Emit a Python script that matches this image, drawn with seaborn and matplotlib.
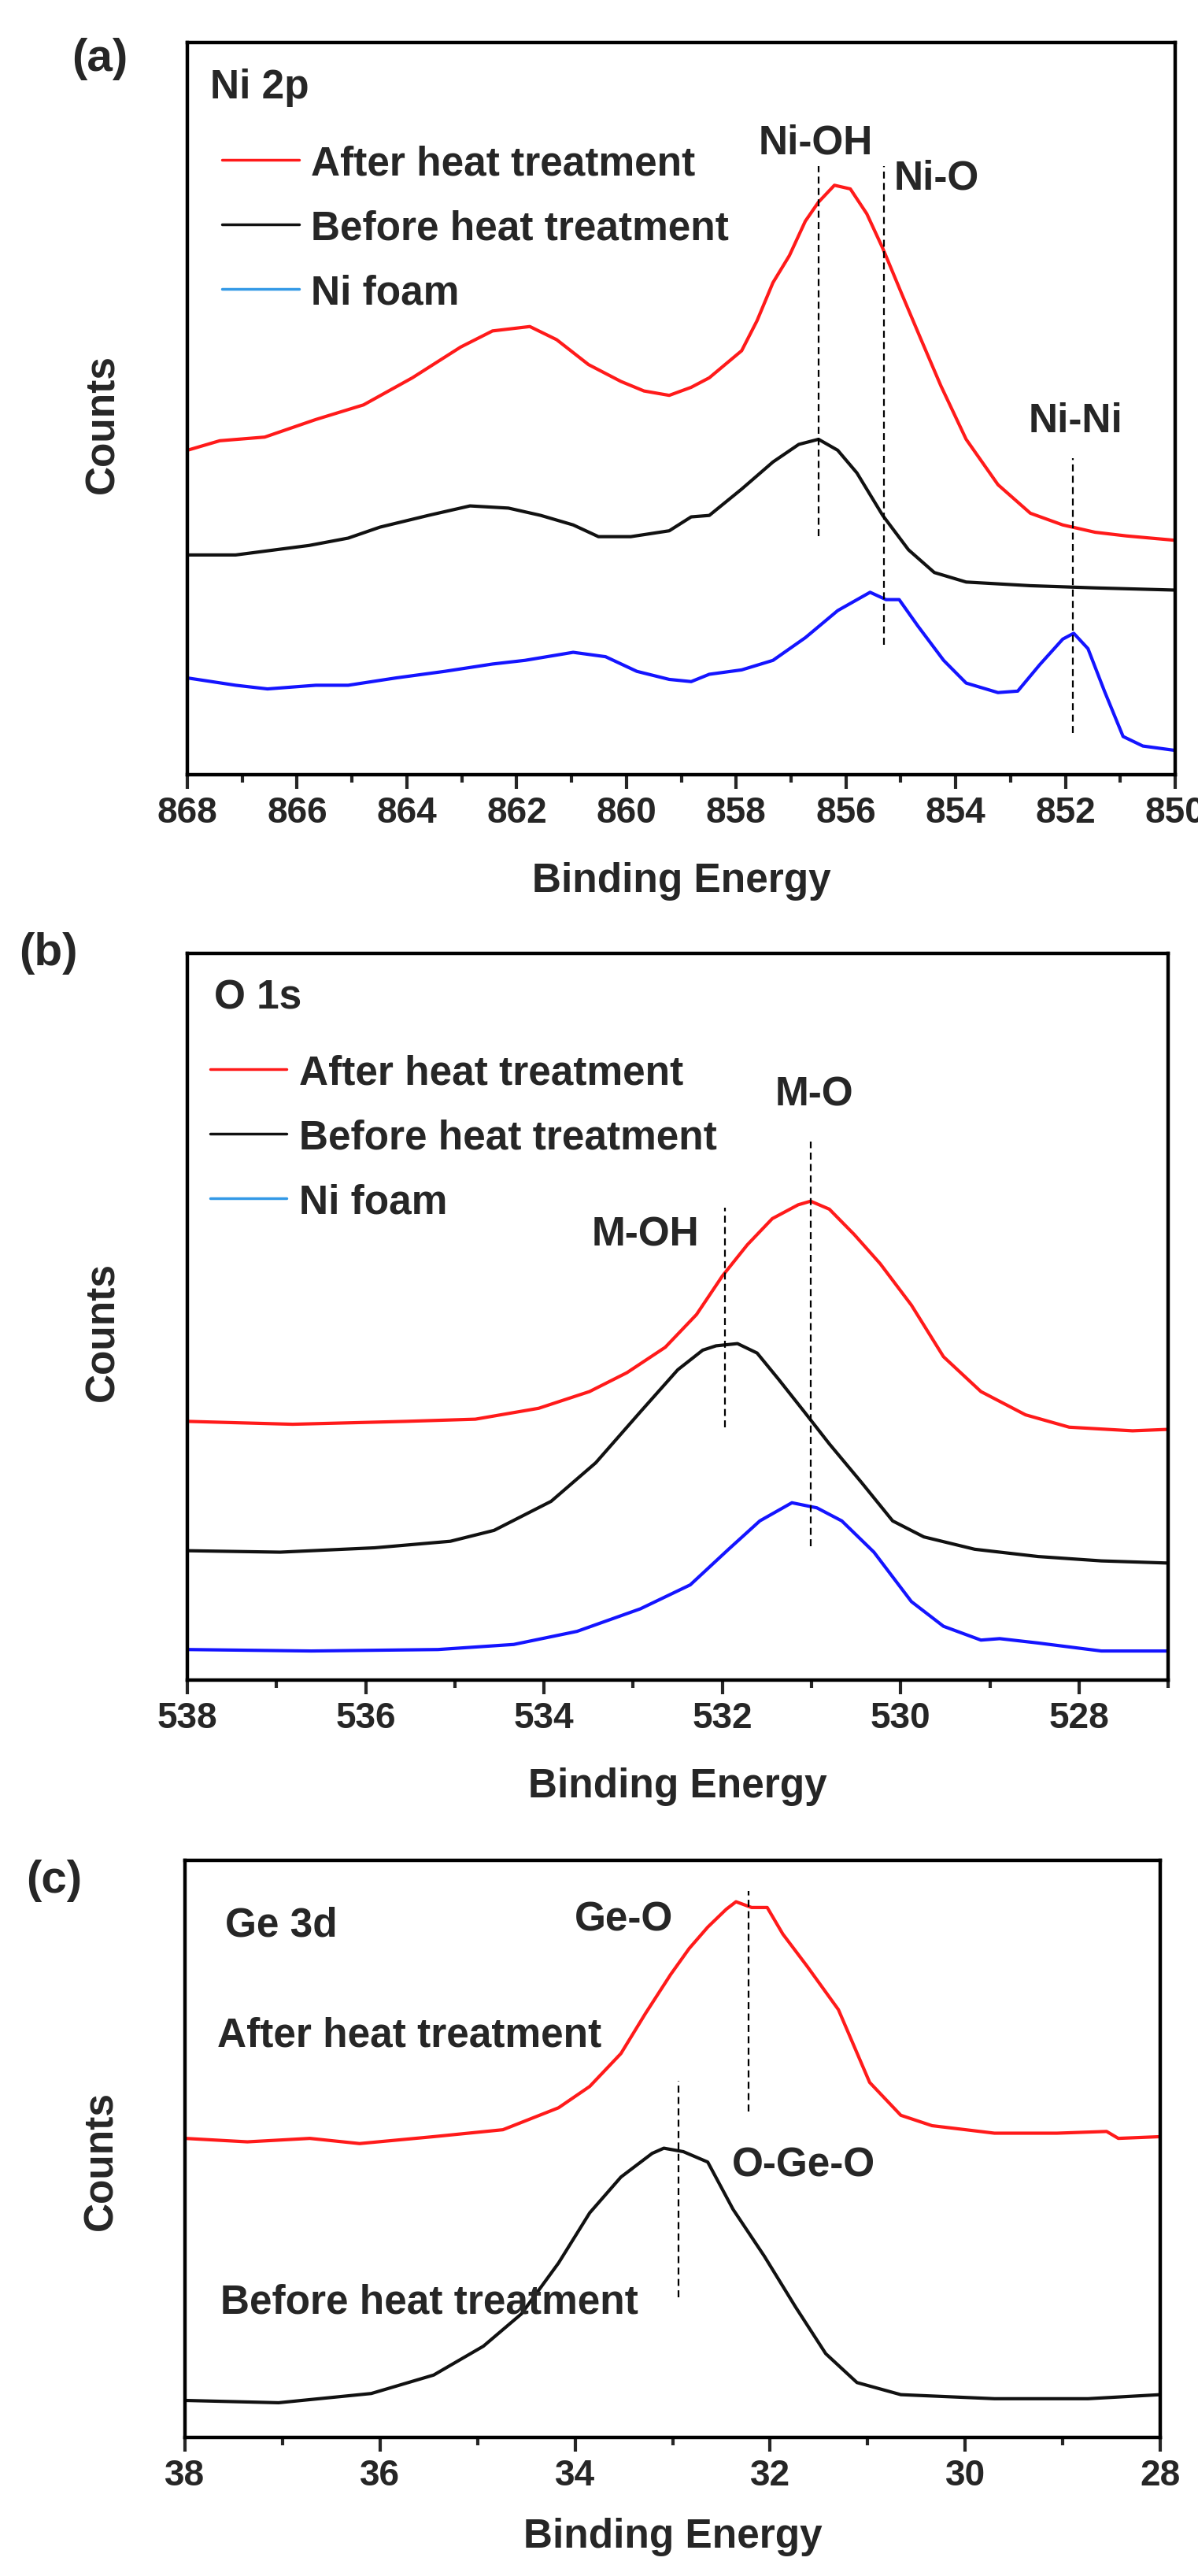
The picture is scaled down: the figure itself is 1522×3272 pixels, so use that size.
import seaborn as sns
import matplotlib.pyplot as plt
from matplotlib.lines import Line2D
from matplotlib.ticker import MultipleLocator

# ---- panel (a) Ni 2p : binding energy (eV) and normalised counts
ni_after_x = [868, 867.41, 866.59, 865.66, 864.79, 863.90, 863.02, 862.44, 861.76, 861.27,
              860.69, 860.10, 859.68, 859.22, 858.82, 858.49, 857.90, 857.62, 857.33, 857.03,
              856.74, 856.50, 856.21, 855.92, 855.62, 855.33, 854.98, 854.63, 854.27, 853.81,
              853.23, 852.64, 852.05, 851.46, 850.89, 850.0]
ni_after_y = [0.443, 0.456, 0.461, 0.485, 0.505, 0.542, 0.584, 0.606, 0.612, 0.594,
              0.560, 0.537, 0.524, 0.518, 0.529, 0.542, 0.579, 0.620, 0.672, 0.709,
              0.756, 0.782, 0.805, 0.800, 0.766, 0.719, 0.656, 0.594, 0.531, 0.458,
              0.396, 0.357, 0.341, 0.331, 0.326, 0.320]
ni_before_x = [868, 867.12, 865.78, 865.07, 864.49, 863.61, 862.85, 862.15, 861.56, 860.97,
               860.51, 859.92, 859.22, 858.82, 858.49, 857.90, 857.33, 856.86, 856.50, 856.15,
               855.80, 855.33, 854.86, 854.39, 853.81, 852.64, 851.46, 850.0]
ni_before_y = [0.300, 0.300, 0.313, 0.323, 0.338, 0.354, 0.367, 0.364, 0.354, 0.341,
               0.325, 0.325, 0.333, 0.352, 0.354, 0.390, 0.427, 0.451, 0.458, 0.443,
               0.412, 0.354, 0.307, 0.276, 0.263, 0.258, 0.255, 0.252]
ni_foam_x = [868, 867.12, 866.54, 865.66, 865.07, 864.20, 863.31, 862.44, 861.85, 860.97,
             860.38, 859.81, 859.22, 858.82, 858.49, 857.90, 857.33, 856.74, 856.15, 855.56,
             855.27, 855.03, 854.69, 854.22, 853.81, 853.23, 852.87, 852.47, 852.05, 851.85,
             851.59, 851.29, 850.95, 850.59, 850.0]
ni_foam_y = [0.132, 0.122, 0.117, 0.122, 0.122, 0.132, 0.141, 0.151, 0.156, 0.167,
             0.161, 0.141, 0.130, 0.127, 0.137, 0.143, 0.156, 0.187, 0.224, 0.249,
             0.239, 0.239, 0.203, 0.156, 0.125, 0.112, 0.114, 0.150, 0.185, 0.193,
             0.172, 0.114, 0.052, 0.039, 0.033]

# ---- panel (b) O 1s
o_after_x = [538, 536.82, 535.55, 534.77, 534.06, 533.49, 533.07, 532.64, 532.29, 532.00,
             531.72, 531.44, 531.15, 531.01, 530.80, 530.52, 530.23, 529.88, 529.52, 529.10,
             528.60, 528.11, 527.40, 527]
o_after_y = [0.356, 0.352, 0.356, 0.359, 0.374, 0.397, 0.423, 0.458, 0.503, 0.556,
             0.599, 0.635, 0.654, 0.659, 0.648, 0.613, 0.573, 0.516, 0.445, 0.397,
             0.365, 0.348, 0.343, 0.345]
o_before_x = [538, 536.96, 535.90, 535.05, 534.56, 533.92, 533.42, 532.92, 532.50, 532.22,
              532.07, 531.83, 531.61, 531.37, 531.08, 530.80, 530.44, 530.09, 529.74, 529.17,
              528.46, 527.75, 527]
o_before_y = [0.178, 0.176, 0.182, 0.191, 0.206, 0.246, 0.299, 0.369, 0.427, 0.454,
              0.460, 0.463, 0.450, 0.414, 0.369, 0.325, 0.272, 0.219, 0.197, 0.180,
              0.170, 0.164, 0.161]
o_foam_x = [538, 536.61, 535.19, 534.34, 533.63, 532.92, 532.36, 531.93, 531.58, 531.22,
            530.94, 530.66, 530.30, 529.88, 529.52, 529.10, 528.89, 528.46, 527.75, 527]
o_foam_y = [0.042, 0.040, 0.042, 0.049, 0.067, 0.098, 0.131, 0.180, 0.219, 0.244,
            0.237, 0.219, 0.176, 0.108, 0.074, 0.055, 0.057, 0.051, 0.040, 0.040]

# ---- panel (c) Ge 3d
ge_after_x = [38, 37.36, 36.72, 36.21, 35.45, 34.74, 34.17, 33.85, 33.53, 33.28, 33.02, 32.83,
              32.64, 32.45, 32.35, 32.19, 32.03, 31.87, 31.62, 31.30, 30.98, 30.66, 30.34,
              29.70, 29.06, 28.55, 28.43, 28.0]
ge_after_y = [0.518, 0.512, 0.518, 0.509, 0.521, 0.533, 0.571, 0.608, 0.665, 0.734, 0.802,
              0.847, 0.884, 0.915, 0.928, 0.918, 0.918, 0.872, 0.816, 0.741, 0.615, 0.558,
              0.540, 0.527, 0.527, 0.530, 0.518, 0.521]
ge_before_x = [38, 37.04, 36.09, 35.45, 34.94, 34.55, 34.17, 33.85, 33.53, 33.21, 33.09,
               32.89, 32.64, 32.38, 32.06, 31.74, 31.43, 31.11, 30.66, 29.70, 28.74, 28.0]
ge_before_y = [0.064, 0.060, 0.076, 0.108, 0.158, 0.214, 0.302, 0.389, 0.451, 0.492, 0.501,
               0.495, 0.477, 0.395, 0.314, 0.226, 0.145, 0.095, 0.074, 0.067, 0.067, 0.074]

# peak markers: label, position (eV), y range
ni_peaks = [("Ni-OH", 856.50, 0.326, 0.831), ("Ni-O", 855.31, 0.177, 0.831),
            ("Ni-Ni", 851.86, 0.057, 0.432)]
o_peaks = [("M-OH", 531.97, 0.348, 0.650), ("M-O", 531.01, 0.184, 0.741)]
ge_peaks = [("Ge-O", 32.22, 0.565, 0.947), ("O-Ge-O", 32.94, 0.242, 0.618)]

RED, BLACK, BLUE, LEG_BLUE = "#ff1a1a", "#111111", "#1414ff", "#3399e6"
FS = 37
LW = 3.0

sns.set_theme(style="ticks")
plt.rcParams["font.family"] = ["Liberation Sans", "DejaVu Sans"]
plt.rcParams["font.weight"] = "bold"

fig = plt.figure(figsize=(15.22, 32.73), dpi=100)
ax_a = fig.add_axes([0.1564, 0.6991, 0.8246, 0.2841])
ax_b = fig.add_axes([0.1564, 0.3477, 0.8187, 0.2820])
ax_c = fig.add_axes([0.1544, 0.0538, 0.8141, 0.2240])


def style_axis(ax, xlim, label_y):
    ax.set_xlim(*xlim)
    ax.set_ylim(0, 1)
    ax.xaxis.set_major_locator(MultipleLocator(2))
    ax.xaxis.set_minor_locator(MultipleLocator(1))
    ax.tick_params(axis="x", which="major", direction="out", length=13, width=3,
                   labelsize=33, pad=6, top=False)
    ax.tick_params(axis="x", which="minor", direction="out", length=7, width=3, top=False)
    ax.tick_params(axis="y", which="both", left=False, right=False, labelleft=False)
    for sp in ax.spines.values():
        sp.set_linewidth(3.2)
        sp.set_color("black")
    ax.set_xlabel("Binding Energy", fontsize=FS, fontweight="bold")
    ax.set_ylabel("Counts", fontsize=FS, fontweight="bold")
    ax.xaxis.set_label_coords(0.5, label_y)
    ax.yaxis.set_label_coords(-0.066, 0.48)
    for lab in ax.get_xticklabels():
        lab.set_fontweight("bold")


def draw_peaks(ax, peaks):
    for _, x, y0, y1 in peaks:
        ax.plot([x, x], [y0, y1], color="black", lw=1.6, ls=(0, (4, 2.5)))


def add_legend(ax, top, x0):
    handles = [Line2D([], [], color=RED, lw=2.5), Line2D([], [], color=BLACK, lw=2.5),
               Line2D([], [], color=LEG_BLUE, lw=2.5)]
    ax.legend(handles, ["After heat treatment", "Before heat treatment", "Ni foam"],
              loc="upper left", bbox_to_anchor=(x0, top), frameon=False, borderpad=0,
              borderaxespad=0, handlelength=1.9, handletextpad=0.3, labelspacing=0.64,
              prop={"size": FS, "weight": "bold"})


# (a)
sns.lineplot(x=ni_after_x, y=ni_after_y, color=RED, lw=LW, ax=ax_a, sort=False)
sns.lineplot(x=ni_before_x, y=ni_before_y, color=BLACK, lw=LW, ax=ax_a, sort=False)
sns.lineplot(x=ni_foam_x, y=ni_foam_y, color=BLUE, lw=LW, ax=ax_a, sort=False)
draw_peaks(ax_a, ni_peaks)
style_axis(ax_a, (868, 850), -0.118)
add_legend(ax_a, 0.861, 0.035)
ax_a.text(867.58, 0.925, "Ni 2p", fontsize=FS, fontweight="bold")
ax_a.text(856.55, 0.849, "Ni-OH", fontsize=FS, fontweight="bold", ha="center")
ax_a.text(855.12, 0.800, "Ni-O", fontsize=FS, fontweight="bold", ha="left")
ax_a.text(851.82, 0.469, "Ni-Ni", fontsize=FS, fontweight="bold", ha="center")

# (b)
sns.lineplot(x=o_after_x, y=o_after_y, color=RED, lw=LW, ax=ax_b, sort=False)
sns.lineplot(x=o_before_x, y=o_before_y, color=BLACK, lw=LW, ax=ax_b, sort=False)
sns.lineplot(x=o_foam_x, y=o_foam_y, color=BLUE, lw=LW, ax=ax_b, sort=False)
draw_peaks(ax_b, o_peaks)
style_axis(ax_b, (538, 527), -0.119)
add_legend(ax_b, 0.862, 0.023)
ax_b.text(537.70, 0.925, "O 1s", fontsize=FS, fontweight="bold")
ax_b.text(530.97, 0.791, "M-O", fontsize=FS, fontweight="bold", ha="center")
ax_b.text(532.86, 0.599, "M-OH", fontsize=FS, fontweight="bold", ha="center")

# (c)
sns.lineplot(x=ge_after_x, y=ge_after_y, color=RED, lw=LW, ax=ax_c, sort=False)
sns.lineplot(x=ge_before_x, y=ge_before_y, color=BLACK, lw=LW, ax=ax_c, sort=False)
draw_peaks(ax_c, ge_peaks)
style_axis(ax_c, (38, 28), -0.138)
ax_c.text(37.59, 0.869, "Ge 3d", fontsize=FS, fontweight="bold")
ax_c.text(33.50, 0.879, "Ge-O", fontsize=FS, fontweight="bold", ha="center")
ax_c.text(37.67, 0.678, "After heat treatment", fontsize=FS, fontweight="bold")
ax_c.text(32.39, 0.453, "O-Ge-O", fontsize=FS, fontweight="bold")
ax_c.text(37.64, 0.216, "Before heat treatment", fontsize=FS, fontweight="bold")

# panel letters
for txt, xx, yy in [("(a)", 0.083, 0.977), ("(b)", 0.040, 0.630), ("(c)", 0.045, 0.270)]:
    fig.text(xx, yy, txt, fontsize=42, fontweight="bold", ha="center", va="center")

fig.savefig("out.png", dpi=100, facecolor="white")
